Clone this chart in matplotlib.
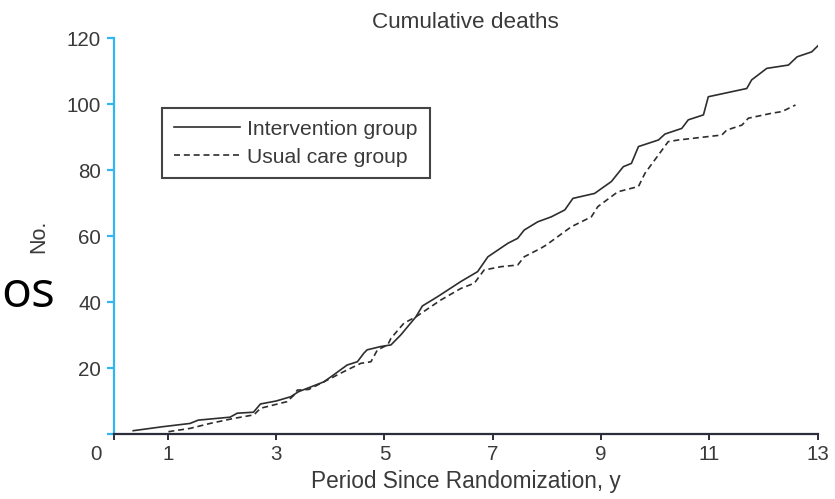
import matplotlib
matplotlib.use("Agg")
import matplotlib.pyplot as plt
from matplotlib import transforms

plt.rcParams['font.family'] = ['Liberation Sans', 'DejaVu Sans']

# Data
int_x = [0.36, 0.9, 1.41, 1.56, 2.15, 2.28, 2.58, 2.71, 3.0, 3.27, 3.41, 3.88, 4.06, 4.31,
         4.50, 4.62, 4.68, 4.93, 5.12, 5.30, 5.58, 5.70, 5.98, 6.41, 6.72, 6.91, 7.28, 7.46,
         7.58, 7.83, 8.08, 8.33, 8.48, 8.88, 9.19, 9.41, 9.56, 9.69, 10.06, 10.18, 10.49,
         10.61, 10.89, 10.98, 11.69, 11.78, 12.06, 12.46, 12.62, 12.89, 13.02]
int_y = [1.0, 2.2, 3.2, 4.2, 5.1, 6.3, 6.6, 9.1, 10.0, 11.3, 12.8, 15.8, 17.9, 20.9,
         21.9, 24.5, 25.5, 26.5, 27.0, 30.0, 35.5, 38.8, 41.6, 46.2, 49.2, 53.7, 57.8, 59.3,
         61.8, 64.3, 65.8, 67.9, 71.4, 72.9, 76.5, 81.0, 82.0, 87.1, 89.1, 90.9, 92.6,
         95.2, 96.7, 102.2, 104.7, 107.3, 110.8, 111.8, 114.3, 115.8, 117.9]

uc_x = [1.01, 1.41, 1.78, 2.21, 2.59, 2.71, 3.20, 3.33, 3.39, 3.6, 3.88, 4.2, 4.56, 4.75,
        4.87, 5.06, 5.12, 5.36, 5.58, 6.04, 6.41, 6.66, 6.84, 7.15, 7.46, 7.58, 7.89, 7.99,
        8.45, 8.82, 8.94, 9.31, 9.69, 9.81, 10.24, 10.43, 11.23, 11.32, 11.60, 11.72, 12.15,
        12.34, 12.59]
uc_y = [0.7, 1.7, 3.2, 4.7, 5.8, 7.8, 9.8, 11.8, 13.3, 13.5, 15.8, 18.5, 21.4, 21.9,
        25.5, 27.0, 29.0, 33.6, 35.5, 40.6, 44.1, 45.7, 49.7, 50.7, 51.2, 53.7, 56.3, 57.3,
        62.8, 65.8, 68.9, 73.4, 75.0, 79.0, 88.6, 89.1, 90.6, 92.1, 93.6, 95.7, 97.2,
        97.7, 99.7]

x_ticks = [0, 1, 3, 5, 7, 9, 11, 13]
x_ticklabels = ['', '1', '3', '5', '7', '9', '11', '13']
y_ticks = [0, 20, 40, 60, 80, 100, 120]
y_ticklabels = ['', '20', '40', '60', '80', '100', '120']

W, H = 835, 499
fig = plt.figure(figsize=(W / 100, H / 100), dpi=100)
ax = fig.add_axes([113.7 / W, (H - 434) / H, 704 / W, 396 / H])

text_col = '#3a3a3a'
cyan = '#33b5f2'
line_col = '#2e2e2e'

ax.plot(int_x, int_y, color=line_col, lw=1.2, label='Intervention group')
ax.plot(uc_x, uc_y, color=line_col, lw=1.2, linestyle=(0, (3.6, 2.3)), label='Usual care group')

ax.set_xlim(0, 13)
ax.set_ylim(0, 120)
ax.set_xticks(x_ticks)
ax.set_xticklabels(x_ticklabels)
ax.set_yticks(y_ticks)
ax.set_yticklabels(y_ticklabels)

for s in ['top', 'right']:
    ax.spines[s].set_visible(False)
ax.spines['left'].set_color(cyan)
ax.spines['left'].set_linewidth(1.6)
ax.spines['bottom'].set_color('#2b2d3a')
ax.spines['bottom'].set_linewidth(1.6)

ax.tick_params(axis='y', direction='out', length=5, width=1.6, color=cyan,
               labelsize=14.8, labelcolor=text_col, pad=4.0)
ax.tick_params(axis='x', direction='out', length=4.5, width=1.4, color='#2b2d3a',
               labelsize=14.8, labelcolor=text_col, pad=3.4)

# the "0" at the corner
tr = transforms.blended_transform_factory(ax.transData, ax.transAxes)
ax.text(-0.33, -0.028, '0', transform=tr, ha='center', va='top', fontsize=14.8,
        color=text_col, clip_on=False)

ax.set_title('Cumulative deaths', fontsize=16.2, color=text_col, pad=7)
ax.set_xlabel('Period Since Randomization, y', fontsize=16.3, color=text_col, labelpad=4)
ax.set_ylabel('No.', fontsize=15.5, color=text_col, labelpad=13)

leg = ax.legend(loc='upper left', bbox_to_anchor=(0.0686, 0.823), borderaxespad=0,
                fontsize=15.2, handlelength=3.15, handletextpad=0.35, borderpad=0.55,
                labelspacing=0.42, fancybox=False, framealpha=1, edgecolor='#444444')
leg.get_frame().set_linewidth(1.5)
for t in leg.get_texts():
    t.set_color(text_col)

# fragment of slide text at the left edge
fig.text(1 / W, (H - 307) / H, 'os', fontsize=36, family='Open Sans', color='black',
         ha='left', va='baseline')

fig.savefig('out.png', dpi=100)
